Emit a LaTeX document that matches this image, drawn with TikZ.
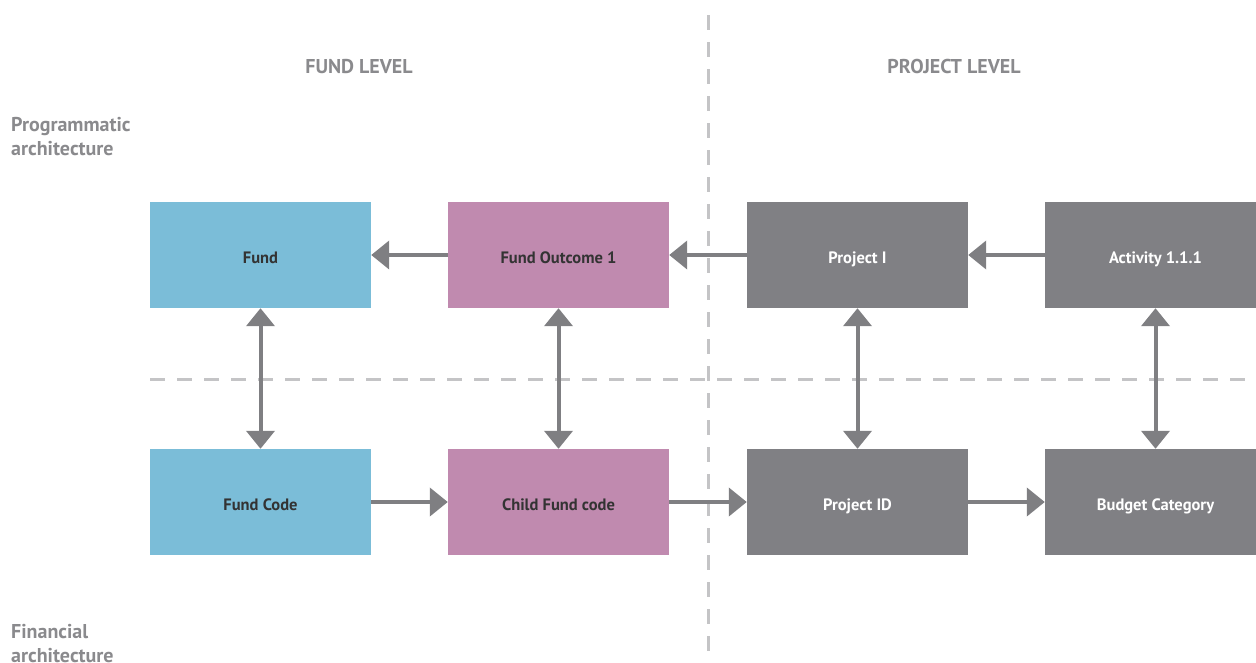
\documentclass[tikz,border=0pt]{standalone}
\usepackage{fontspec}
\setmainfont{PT Sans}
\usetikzlibrary{arrows.meta}
\definecolor{fundblue}{HTML}{7BBDD8}
\definecolor{fundpink}{HTML}{C08AAF}
\definecolor{projgrey}{HTML}{808084}
\definecolor{linkgrey}{HTML}{7F7F82}
\definecolor{labgrey}{HTML}{8A8A8D}
\definecolor{dashgrey}{HTML}{C4C4C6}
\begin{document}
\begin{tikzpicture}[x=1pt, y=-1pt,
  box/.style={minimum width=221pt, minimum height=106pt, inner sep=0pt, text height=16pt, text depth=0pt, font=\bfseries\fontsize{16.5}{18}\selectfont},
  link/.style={draw=linkgrey, line width=4pt, -{Triangle[width=28pt,length=18pt]}},
  both/.style={link, {Triangle[width=28pt,length=18pt]}-{Triangle[width=28pt,length=18pt]}},
  divider/.style={draw=dashgrey, line width=3pt, dash pattern=on 15pt off 12pt},
  heading/.style={text=labgrey, inner sep=0pt, font=\bfseries\fontsize{20}{24}\selectfont}]
\useasboundingbox (0,0) rectangle (1256,662);
\clip (0,0) rectangle (1256,662);
% dividers
\draw[divider] (708,15) -- (708,670);
\draw[divider] (150,379) -- (1256,379);
% headings
\node[heading, anchor=base] (fl) at (359,73) {FUND LEVEL};
\node[heading, anchor=base] (pl) at (954,73) {PROJECT LEVEL};
\node[heading, anchor=base west, align=left] (prog) at (11,155) {Programmatic\\architecture};
\node[heading, anchor=base west, align=left] (fin) at (11,662) {Financial\\architecture};
% programmatic row
\node[box, fill=fundblue, text=black!80] (fund) at (260.5,255) {Fund};
\node[box, fill=fundpink, text=black!80] (outc) at (558.5,255) {Fund Outcome 1};
\node[box, fill=projgrey, text=white] (proj) at (857.5,255) {Project I};
\node[box, fill=projgrey, text=white] (act) at (1155.5,255) {Activity 1.1.1};
% financial row
\node[box, fill=fundblue, text=black!80] (fcode) at (260.5,502) {Fund Code};
\node[box, fill=fundpink, text=black!80] (child) at (558.5,502) {Child Fund code};
\node[box, fill=projgrey, text=white] (pid) at (857.5,502) {Project ID};
\node[box, fill=projgrey, text=white] (budget) at (1155.5,502) {Budget Category};
% links
\draw[link] (outc) -- (fund);
\draw[link] (proj) -- (outc);
\draw[link] (act) -- (proj);
\draw[link] (fcode) -- (child);
\draw[link] (child) -- (pid);
\draw[link] (pid) -- (budget);
\draw[both] (fund) -- (fcode);
\draw[both] (outc) -- (child);
\draw[both] (proj) -- (pid);
\draw[both] (act) -- (budget);
\end{tikzpicture}
\end{document}
